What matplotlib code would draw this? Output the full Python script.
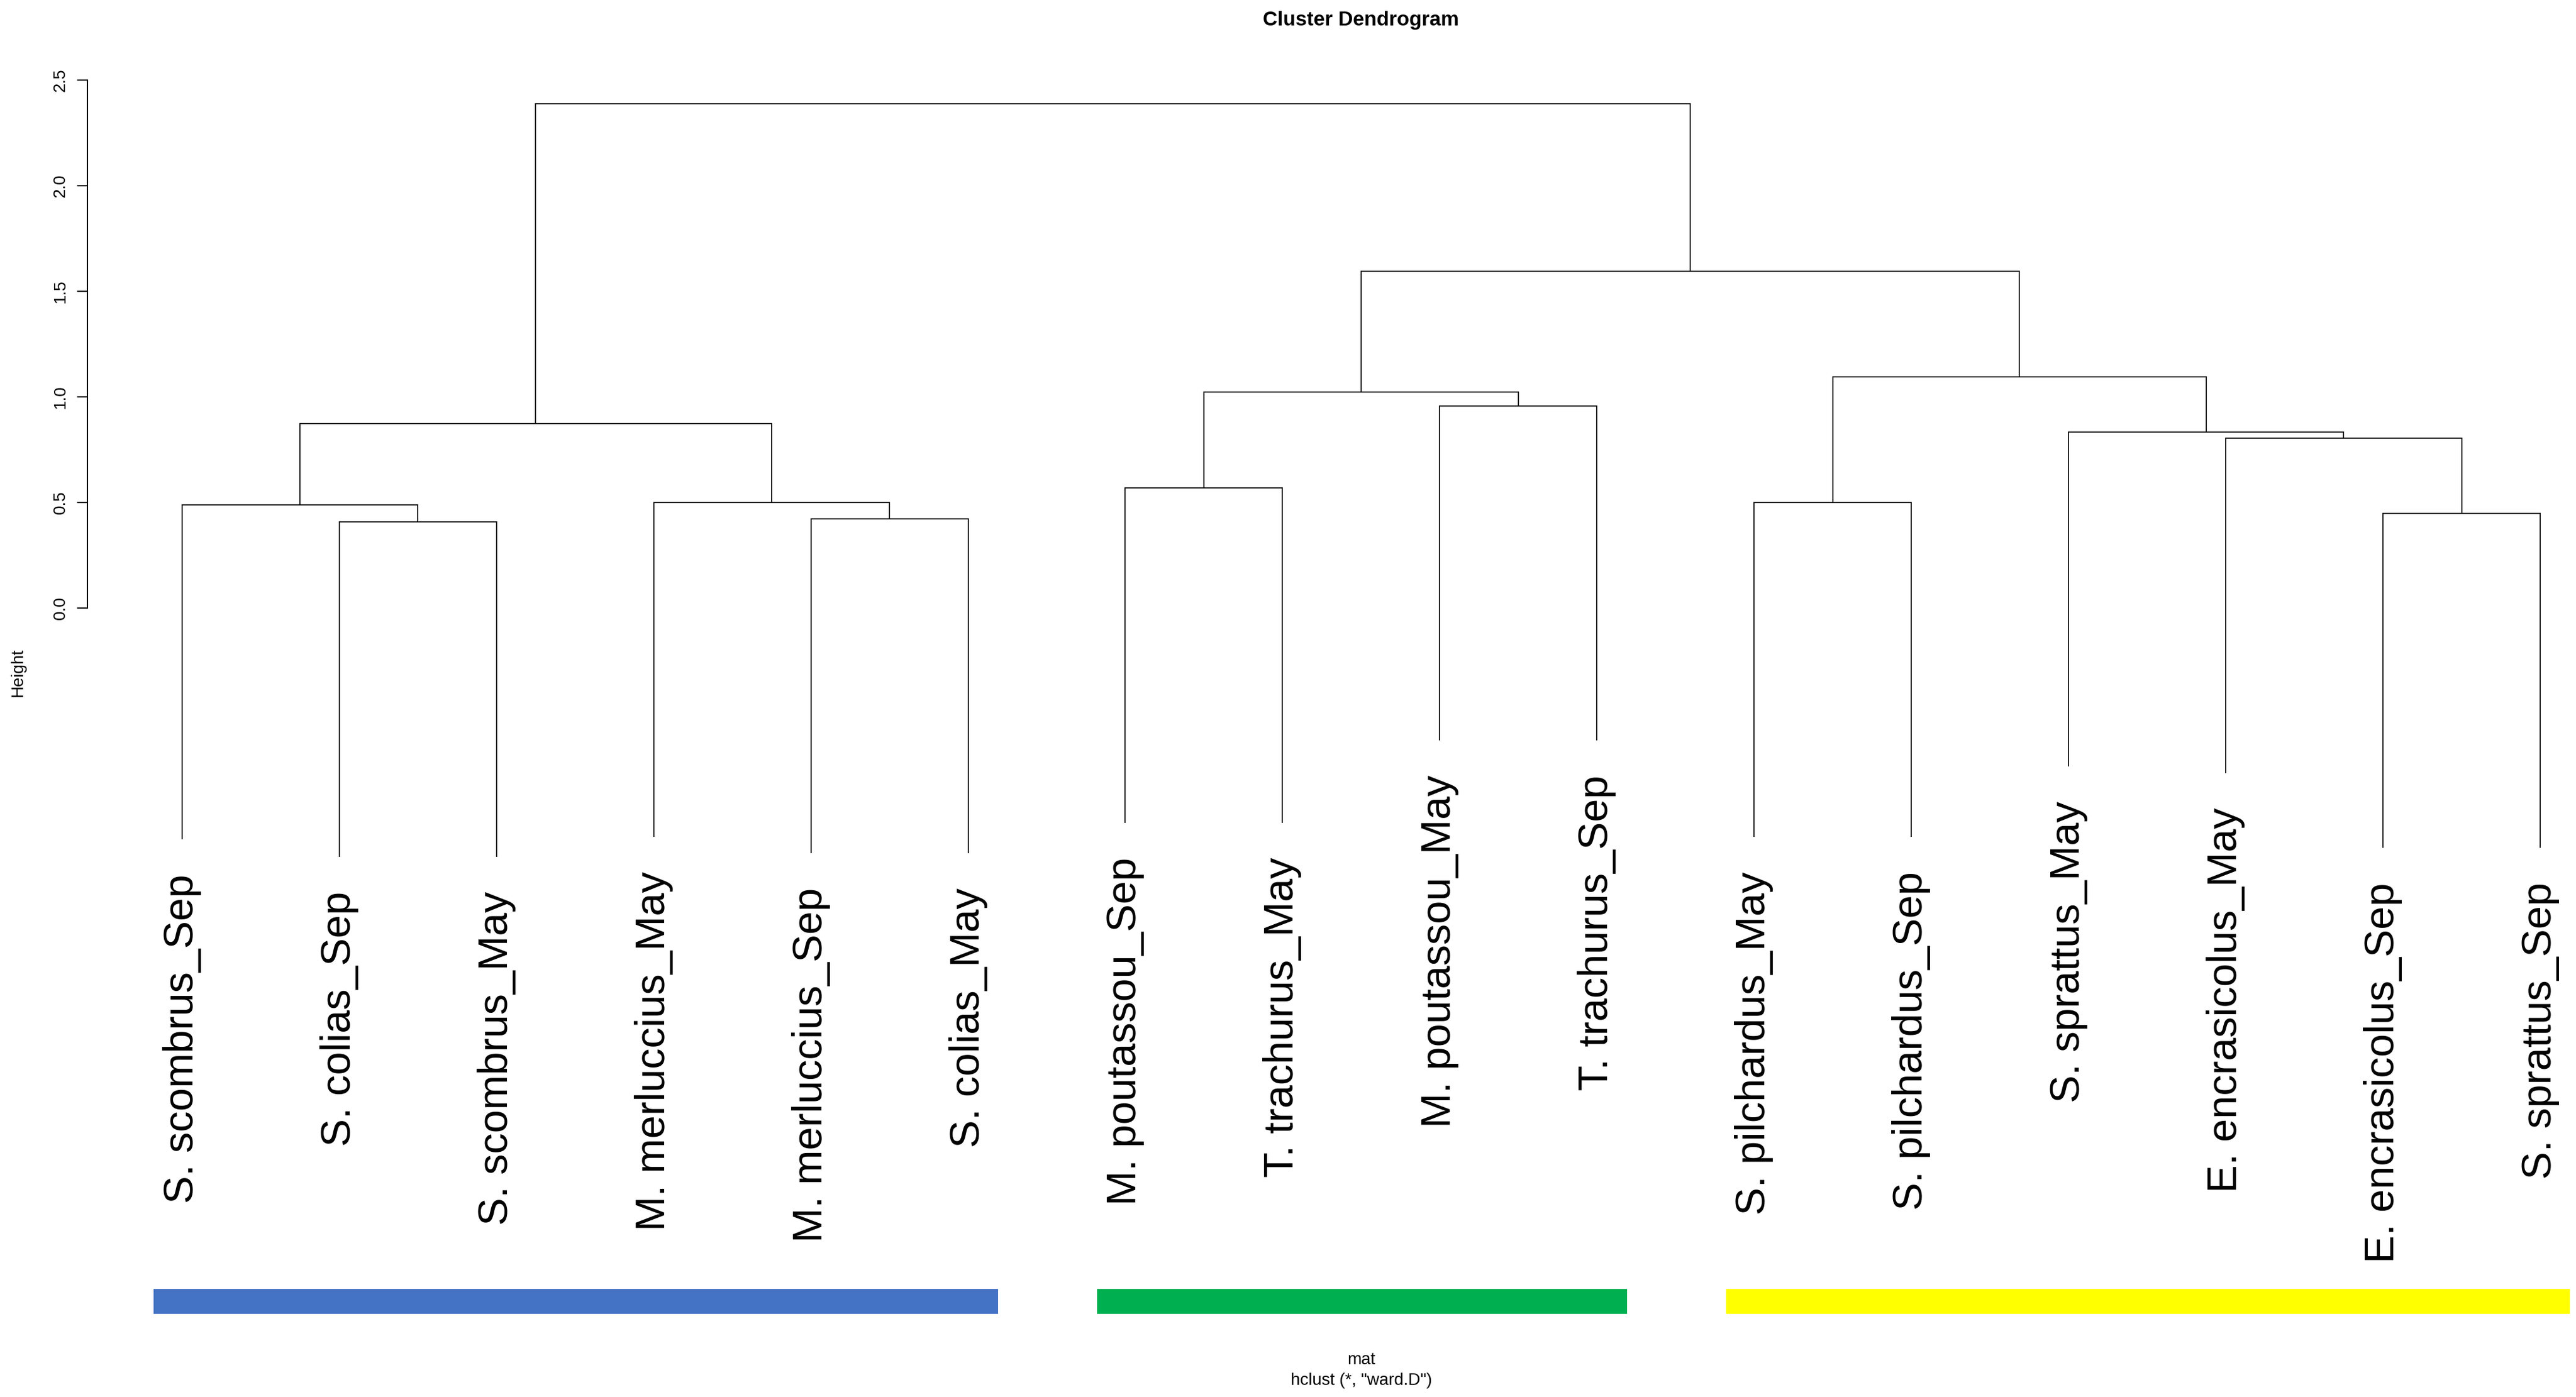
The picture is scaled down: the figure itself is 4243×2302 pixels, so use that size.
import matplotlib
matplotlib.use("Agg")
import matplotlib.pyplot as plt
from matplotlib.patches import Rectangle

plt.rcParams['font.family'] = ['Liberation Sans', 'DejaVu Sans']

# ---------------- data ----------------
leaf_labels = [
    "S. scombrus_Sep", "S. colias_Sep", "S. scombrus_May",
    "M. merluccius_May", "M. merluccius_Sep", "S. colias_May",
    "M. poutassou_Sep", "T. trachurus_May", "M. poutassou_May", "T. trachurus_Sep",
    "S. pilchardus_May", "S. pilchardus_Sep", "S. sprattus_May",
    "E. encrasicolus_May", "E. encrasicolus_Sep", "S. sprattus_Sep",
]
# R-style merge matrix: negative = leaf (1-based position), positive = earlier merge row
merge_left = [-2, -5, -15, -1, -4, -11, -7, -14, -13, 4, -9, 7, 6, 12, 10]
merge_right = [-3, -6, -16, 1, 2, -12, -8, 3, 8, 5, -10, 11, 9, 13, 14]
merge_height = [0.407, 0.423, 0.449, 0.488, 0.500, 0.500, 0.567, 0.803,
                0.834, 0.873, 0.957, 1.021, 1.093, 1.593, 2.386]

# colored group bars (first leaf, last leaf) and colours
group_first = [1, 7, 11]
group_last = [6, 10, 16]
group_colors = ["#4472C4", "#00B050", "#FFFF00"]

y_ticks = [0.0, 0.5, 1.0, 1.5, 2.0, 2.5]
y_tick_labels = ["0.0", "0.5", "1.0", "1.5", "2.0", "2.5"]

title = "Cluster Dendrogram"
ylabel = "Height"
xlabel_line1 = "mat"
xlabel_line2 = 'hclust (*, "ward.D")'

# ---------------- layout ----------------
W, H = 4243, 2302
DPI = 100
HANG = 1.585
fig = plt.figure(figsize=(W / DPI, H / DPI), dpi=DPI)
ax = fig.add_axes([0, 0, 1, 1])
ax.set_xlim(-0.1574, 16.2275)
ax.set_ylim(-3.7365, 2.8787)
ax.patch.set_alpha(0)

node_x = {}
node_h = {}


def child_pos(c, h):
    if c < 0:
        return float(-c), h - HANG
    return node_x[c], node_h[c]


lw = 1.25
for i, (l, r, h) in enumerate(zip(merge_left, merge_right, merge_height), start=1):
    xl, hl = child_pos(l, h)
    xr, hr = child_pos(r, h)
    ax.plot([xl, xl, xr, xr], [hl, h, h, hr], color="black", lw=lw,
            solid_capstyle="butt", solid_joinstyle="miter")
    node_x[i] = (xl + xr) / 2.0
    node_h[i] = h

# leaf labels
leaf_bottom = {}
for i, (l, r, h) in enumerate(zip(merge_left, merge_right, merge_height), start=1):
    for c in (l, r):
        if c < 0:
            leaf_bottom[-c] = h - HANG

for k, lab in enumerate(leaf_labels, start=1):
    ax.annotate(lab, xy=(k, leaf_bottom[k]), xytext=(0, -41),
                textcoords="offset points", rotation=90,
                ha="center", va="top", fontsize=49.5, color="black")

# coloured group bars
pad_left = 0.18
pad_right = 0.19
for f, l, c in zip(group_first, group_last, group_colors):
    ax.add_patch(Rectangle((f - pad_left, -3.343), (l - f) + pad_left + pad_right, 0.118,
                           facecolor=c, edgecolor="none"))

# y axis
for s in ["top", "right", "bottom"]:
    ax.spines[s].set_visible(False)
ax.spines["left"].set_position(("data", 0.4))
ax.spines["left"].set_bounds(0, 2.5)
ax.spines["left"].set_linewidth(1.5)
ax.set_yticks(y_ticks)
ax.set_yticklabels(y_tick_labels)
ax.tick_params(axis="y", direction="out", length=12, width=1.5,
               labelsize=20, pad=11, labelrotation=90)
for t in ax.get_yticklabels():
    t.set_va("center")
ax.set_xticks([])

# texts
fig.text(2242 / W, 1 - 41.7 / H, title, ha="center", va="baseline",
         fontsize=24, fontweight="bold")
fig.text(30 / W, 1 - 1108 / H, ylabel, ha="center", va="center",
         rotation=90, fontsize=20)
fig.text(2242 / W, 1 - 2248 / H, xlabel_line1, ha="center", va="baseline",
         fontsize=20)
fig.text(2242 / W, 1 - 2282 / H, xlabel_line2, ha="center", va="baseline",
         fontsize=20)

fig.savefig("out.png", dpi=DPI, facecolor="white")
